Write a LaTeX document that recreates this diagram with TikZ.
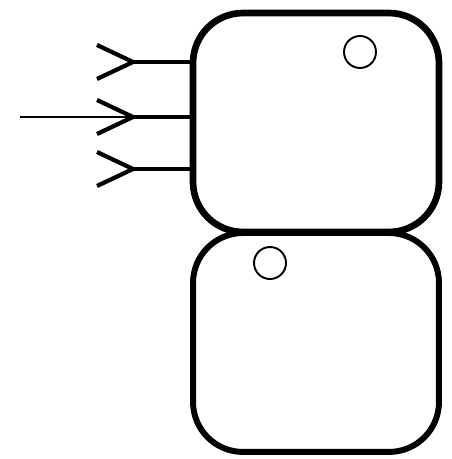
\documentclass[tikz,border=0pt]{standalone}
\usetikzlibrary{calc,positioning}

\begin{document}
\begin{tikzpicture}[
    x=0.02cm,
    y=-0.02cm,
    chamber/.style={draw, rectangle, rounded corners=1cm,
        minimum width=4.92cm, minimum height=4.38cm,
        inner sep=0pt, outer sep=0pt},
    port/.style={draw, circle, line width=1.1pt,
        minimum size=0.64cm, inner sep=0pt},
    stub/.style={line width=2.6pt},
    barb/.style={line width=2.4pt, line join=miter}
]

\useasboundingbox (0,0) rectangle (451,459);

% ---------------------------------------------------------
% Chambers
% ---------------------------------------------------------

\node[chamber, line width=3.8pt] (upper) at (316,122.5) {};

\node[chamber, line width=3.4pt, below=0.02cm of upper] (lower) {};

% Ports
\node[port] (holeA) at (360,52) {};
\node[port] (holeB) at (270,263) {};

% ---------------------------------------------------------
% Inlets
% ---------------------------------------------------------

\foreach \yy/\nm in {62/a, 117/b, 169/c}{
    \coordinate (tip\nm) at (133,\yy);
    \draw[stub] (tip\nm) -- (tip\nm -| upper.west);
    \draw[barb]
        ($(tip\nm)+(-36,-17)$) -- (tip\nm) -- ($(tip\nm)+(-36,17)$);
}

% Feed line
\coordinate (src) at (20,117);
\draw[line width=1pt] (src) -- (tipb);

\end{tikzpicture}
\end{document}
